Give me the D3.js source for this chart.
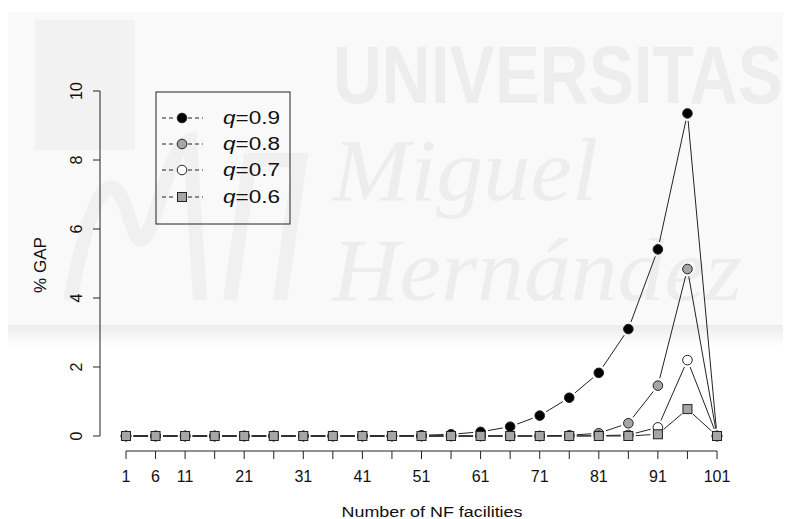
<!DOCTYPE html>
<html><head><meta charset="utf-8">
<script src="https://cdn.jsdelivr.net/npm/d3@7"></script>
<style>body{margin:0;background:#fff}svg{display:block}</style>
</head><body>
<script>
const xValues = [1,6,11,16,21,26,31,36,41,46,51,56,61,66,71,76,81,86,91,96,101];
const xTickValues = [1,6,11,16,21,26,31,36,41,46,51,56,61,66,71,76,81,86,91,96,101];
const xTickLabels = ["1","6","11","","21","","31","","41","","51","","61","","71","","81","","91","","101"];
const yTickValues = [0,2,4,6,8,10];
const q09 = [0,0,0,0,0,0,0,0,0,0,0.02,0.05,0.12,0.27,0.59,1.11,1.83,3.1,5.41,9.35,0];
const q08 = [0,0,0,0,0,0,0,0,0,0,0,0,0,0,0,0.02,0.08,0.37,1.46,4.84,0];
const q07 = [0,0,0,0,0,0,0,0,0,0,0,0,0,0,0,0,0.01,0.03,0.25,2.2,0];
const q06 = [0,0,0,0,0,0,0,0,0,0,0,0,0,0,0,0,0,0,0.05,0.78,0];
const seriesNames = ["0.9","0.8","0.7","0.6"];
const seriesValues = [q09,q08,q07,q06];
const seriesFill = ["#000000","#a6a6a6","#ffffff","#a6a6a6"];
const seriesShape = ["circle","circle","circle","square"];
const watermarkTexts = ["UNIVERSITAS","Miguel","Hernández"];

const W=791,H=519;
const svg=d3.select("body").append("svg").attr("width",W).attr("height",H)
  .style("font-family","'Liberation Sans',Arial,sans-serif");

// watermark background
const defs=svg.append("defs");
const gr=defs.append("linearGradient").attr("id","sh").attr("x1",0).attr("y1",0).attr("x2",0).attr("y2",1);
gr.append("stop").attr("offset","0").attr("stop-color","#ececec");
gr.append("stop").attr("offset","1").attr("stop-color","#ffffff");
svg.append("rect").attr("x",8).attr("y",12).attr("width",775).attr("height",313).attr("fill","#f9f9f9");
svg.append("rect").attr("x",8).attr("y",325).attr("width",775).attr("height",22).attr("fill","url(#sh)");
const wm=svg.append("g").attr("fill","#ededed");
// faint logo shapes on left
wm.append("rect").attr("x",35).attr("y",20).attr("width",100).attr("height",130).attr("fill","#f2f2f2");
wm.append("path").attr("fill","none").attr("stroke","#f0f0f0").attr("stroke-width",14)
  .attr("d","M70,300 C90,200 110,150 130,220 C150,290 160,150 190,140 L200,300 M230,300 L250,160 L300,160 L280,300");

function wmText(str,x0,base,size,width,family,style,weight){
  const t=wm.append("text").attr("font-size",size).attr("font-family",family)
    .attr("font-style",style).attr("font-weight",weight).text(str);
  const w=t.node().getComputedTextLength();
  t.attr("transform",`translate(${x0},${base}) scale(${width/w},1)`);
}
wmText(watermarkTexts[0],333,103,82,450,"'Liberation Sans',sans-serif","normal","bold");
wmText(watermarkTexts[1],332,200,88,266,"'Liberation Serif',serif","italic","normal");
wmText(watermarkTexts[2],332,300,88,410,"'Liberation Serif',serif","italic","normal");

const x=d3.scaleLinear().domain([1,101]).range([126,717]);
const y=d3.scaleLinear().domain([0,10]).range([436,91]);
const ink="#222";

// y axis
const ya=svg.append("g");
ya.append("line").attr("x1",100).attr("x2",100).attr("y1",y(0)).attr("y2",y(10)).attr("stroke",ink);
yTickValues.forEach(v=>{
  ya.append("line").attr("x1",93).attr("x2",100).attr("y1",y(v)).attr("y2",y(v)).attr("stroke",ink);
  ya.append("text").attr("transform",`translate(82,${y(v)}) rotate(-90)`).attr("text-anchor","middle")
    .attr("font-size",16).attr("fill","#111").text(v);
});
svg.append("text").attr("transform","translate(46,265) rotate(-90)").attr("text-anchor","middle")
  .attr("font-size",16).attr("textLength",56).attr("lengthAdjust","spacingAndGlyphs").attr("fill","#111").text("% GAP");

// x axis
const xa=svg.append("g");
xa.append("line").attr("x1",x(1)).attr("x2",x(101)).attr("y1",451).attr("y2",451).attr("stroke",ink);
xTickValues.forEach((v,i)=>{
  xa.append("line").attr("x1",x(v)).attr("x2",x(v)).attr("y1",451).attr("y2",459).attr("stroke",ink);
  if(xTickLabels[i]) xa.append("text").attr("x",x(v)).attr("y",482).attr("text-anchor","middle")
    .attr("font-size",16).attr("fill","#111").text(xTickLabels[i]);
});
svg.append("text").attr("x",432).attr("y",517).attr("text-anchor","middle").attr("font-size",15.5)
  .attr("textLength",181).attr("lengthAdjust","spacingAndGlyphs").attr("fill","#111")
  .text("Number of NF facilities");

function marker(g,cx,cy,shape,fill){
  if(shape==="square"){
    g.append("rect").attr("x",cx-4.5).attr("y",cy-4.5).attr("width",9).attr("height",9)
      .attr("fill",fill).attr("stroke",ink).attr("stroke-width",1);
  } else {
    g.append("circle").attr("cx",cx).attr("cy",cy).attr("r",4.8)
      .attr("fill",fill).attr("stroke",ink).attr("stroke-width",1);
  }
}

const gap=7.5;
seriesValues.forEach((vals,si)=>{
  const g=svg.append("g");
  const pts=vals.map((v,i)=>[x(xValues[i]),y(v)]);
  for(let i=0;i<pts.length-1;i++){
    const [x1,y1]=pts[i],[x2,y2]=pts[i+1];
    const dx=x2-x1,dy=y2-y1,L=Math.hypot(dx,dy);
    if(L>2*gap){
      const ux=dx/L,uy=dy/L;
      g.append("line").attr("x1",x1+ux*gap).attr("y1",y1+uy*gap).attr("x2",x2-ux*gap).attr("y2",y2-uy*gap)
        .attr("stroke",ink).attr("stroke-width",1);
    }
  }
  pts.forEach(p=>marker(g,p[0],p[1],seriesShape[si],seriesFill[si]));
});

// legend
const lg=svg.append("g");
lg.append("rect").attr("x",156).attr("y",92).attr("width",134).attr("height",132).attr("fill","none").attr("stroke",ink);
const ly=[118,144,170,197];
seriesNames.forEach((n,i)=>{
  lg.append("line").attr("x1",162).attr("x2",176).attr("y1",ly[i]).attr("y2",ly[i]).attr("stroke",ink).attr("stroke-dasharray","4,3");
  lg.append("line").attr("x1",188).attr("x2",203).attr("y1",ly[i]).attr("y2",ly[i]).attr("stroke",ink).attr("stroke-dasharray","4,3");
  marker(lg,182,ly[i],seriesShape[i],seriesFill[i]);
  const t=lg.append("text").attr("x",223).attr("y",ly[i]+6).attr("font-size",18).attr("fill","#111")
    .attr("textLength",57).attr("lengthAdjust","spacingAndGlyphs");
  t.append("tspan").attr("font-style","italic").text("q");
  t.append("tspan").text("="+n);
});
</script>
</body></html>
